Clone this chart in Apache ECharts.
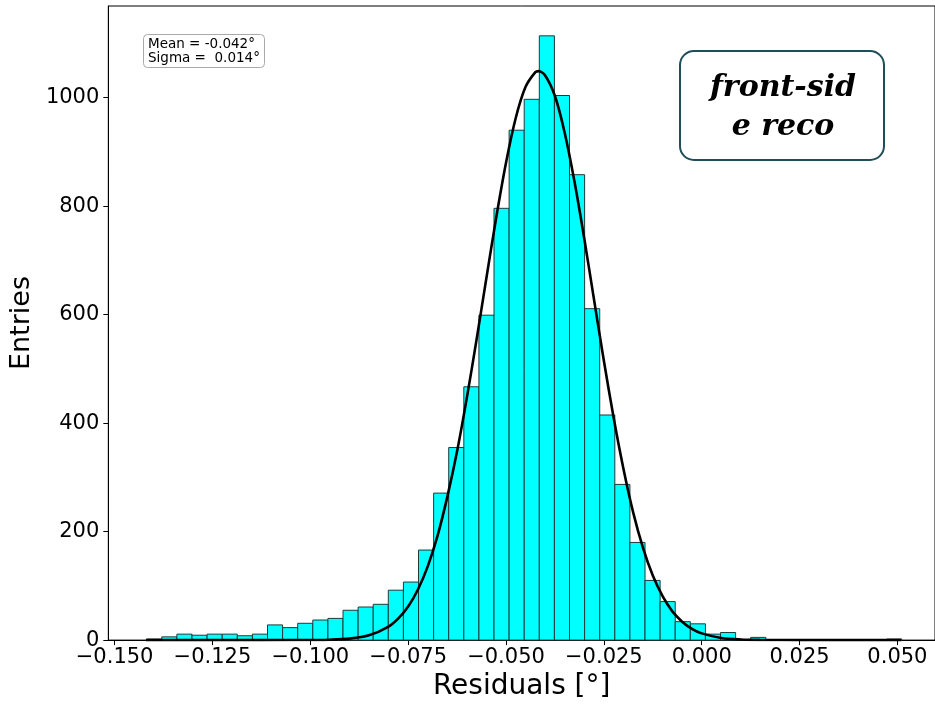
<!DOCTYPE html>
<html>
<head>
<meta charset="utf-8">
<script src="https://cdn.jsdelivr.net/npm/echarts@6/dist/echarts.min.js"></script>
<style>html,body{margin:0;padding:0;background:#fff;overflow:hidden;}#chart{width:935px;height:706px;}</style>
</head>
<body>
<div id="chart"></div>
<script>
// Histogram: 50 equal bins between histRange[0] and histRange[1]
const histRange = [-0.1418, 0.0511];
const binCounts = [2, 6, 11, 9, 11, 11, 8, 11, 28, 23,
                   31, 37, 40, 55, 61, 66, 92, 107, 166, 271,
                   355, 467, 599, 796, 940, 997, 1114, 1004, 858, 611,
                   415, 287, 180, 110, 71, 34, 30, 11, 14, 1,
                   5, 1, 1, 0, 0, 0, 0, 0, 0, 2];
// Gaussian fit curve points
const curveX = [-0.142, -0.120, -0.105, -0.100, -0.095, -0.090, -0.085, -0.080, -0.0775, -0.075, -0.0725, -0.070, -0.0675, -0.065, -0.0625, -0.060, -0.0575, -0.055, -0.0525, -0.050, -0.0475, -0.045, -0.0425, -0.0417, -0.040, -0.0375, -0.035, -0.0325, -0.030, -0.0275, -0.025, -0.0225, -0.020, -0.0175, -0.015, -0.0125, -0.010, -0.0075, -0.005, -0.0025, 0.000, 0.005, 0.010, 0.015, 0.020, 0.030, 0.051];
const curveY = [0, 0, 0.05, 0.2, 0.7, 2.7, 8.8, 24.9, 39.9, 61.9, 93.3, 136, 192, 264, 348, 447, 555, 668, 779, 880, 963, 1020, 1047, 1049, 1041, 1003, 935, 845, 740, 627, 515, 410, 316, 235, 170, 119, 81, 53, 34, 20.8, 12.4, 4, 1.2, 0.3, 0.1, 0, 0];
const xTicks = [-0.150, -0.125, -0.100, -0.075, -0.050, -0.025, 0.000, 0.025, 0.050];
const yTicks = [0, 200, 400, 600, 800, 1000];
const statsText = 'Mean = -0.042°\nSigma =  0.014°';
const noteText = 'front-sid\ne reco';
const xTitle = 'Residuals [°]';
const yTitle = 'Entries';

const nBins = binCounts.length;
const bw = (histRange[1] - histRange[0]) / nBins;
const histData = binCounts.map((c, i) => [histRange[0] + i * bw, histRange[0] + (i + 1) * bw, c]);
const curveData = curveX.map((x, i) => [x, curveY[i]]);

const FONT = 'DejaVu Sans';
const chart = echarts.init(document.getElementById('chart'), null, {renderer: 'canvas', width: 935, height: 706});
chart.setOption({
  animation: false,
  backgroundColor: '#fff',
  grid: {left: 107, right: 0, top: 6, bottom: 64, show: true, borderColor: '#000', borderWidth: 1, backgroundColor: 'transparent'},
  title: [{
    text: statsText, left: 143, top: 34,
    padding: [3, 5, 3, 5],
    borderColor: '#aaa', borderWidth: 1, borderRadius: 4, backgroundColor: '#fff',
    textStyle: {fontFamily: FONT, fontSize: 13.5, fontWeight: 'normal', color: '#000', lineHeight: 14}
  }],
  xAxis: {
    type: 'value', min: -0.1516, max: 0.0596,
    name: xTitle, nameLocation: 'middle', nameGap: 31,
    nameTextStyle: {fontFamily: FONT, fontSize: 28, color: '#000'},
    axisLine: {show: true, onZero: false, lineStyle: {color: '#000', width: 1}},
    axisTick: {show: true, length: 5, lineStyle: {color: '#000'}, customValues: xTicks},
    axisLabel: {customValues: xTicks, fontFamily: FONT, fontSize: 21, color: '#000', margin: 7,
      formatter: v => (v < -1e-9 ? '\u2212' : '') + Math.abs(v).toFixed(3)},
    splitLine: {show: false}
  },
  yAxis: {
    type: 'value', min: 0, max: 1169,
    name: yTitle, nameLocation: 'middle', nameGap: 72,
    nameTextStyle: {fontFamily: FONT, fontSize: 27, color: '#000'},
    axisLine: {show: true, onZero: false, lineStyle: {color: '#000', width: 1}},
    axisTick: {show: true, length: 5, lineStyle: {color: '#000'}, customValues: yTicks},
    axisLabel: {customValues: yTicks, fontFamily: FONT, fontSize: 21, color: '#000', margin: 9,
      formatter: v => String(Math.round(v))},
    splitLine: {show: false}
  },
  series: [{
    type: 'custom',
    data: histData,
    encode: {x: [0, 1], y: 2},
    renderItem: function (params, api) {
      const p0 = api.coord([api.value(0), api.value(2)]);
      const p1 = api.coord([api.value(1), 0]);
      return {
        type: 'rect',
        shape: {x: p0[0], y: p0[1], width: p1[0] - p0[0], height: p1[1] - p0[1]},
        style: {fill: '#00ffff', stroke: '#1e3b3b', lineWidth: 1}
      };
    },
    z: 2
  }, {
    type: 'line',
    data: curveData,
    smooth: 0.3,
    showSymbol: false,
    symbol: 'none',
    lineStyle: {color: '#000', width: 2.6},
    z: 3
  }],
  graphic: [{
    type: 'group',
    children: [{
      type: 'rect',
      shape: {x: 680, y: 51, width: 204, height: 109, r: 14},
      style: {fill: '#fff', stroke: '#1f4d58', lineWidth: 2}
    }, {
      type: 'text',
      x: 783, y: 108,
      style: {text: noteText, fill: '#000', font: 'italic bold 30px "DejaVu Serif"', align: 'center', verticalAlign: 'middle', lineHeight: 39}
    }]
  }]
});
</script>
</body>
</html>
